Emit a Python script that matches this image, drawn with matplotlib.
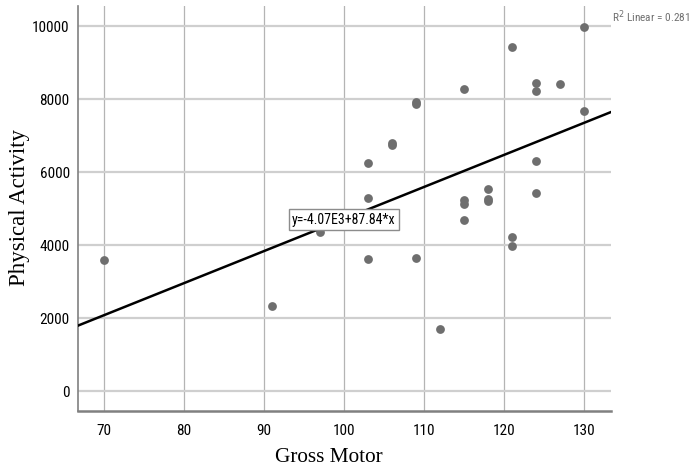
import numpy as np
import matplotlib.pyplot as plt

# valeurs
gross_motor = [70, 91, 97, 103, 103, 103, 106, 106, 109, 109, 109, 112,
               115, 115, 115, 115, 118, 118, 118, 121, 121, 121,
               124, 124, 124, 124, 127, 130, 130]
physical_activity = [3590, 2330, 4360, 6250, 5300, 3610, 6740, 6790, 7920, 7870, 3640, 1700,
                     8270, 5230, 5120, 4690, 5530, 5260, 5200, 9430, 4220, 3980,
                     8440, 8220, 6300, 5430, 8410, 9970, 7670]
intercept, slope = -4070, 87.84
r2 = 0.281
xticks = [70, 80, 90, 100, 110, 120, 130]
yticks = [0, 2000, 4000, 6000, 8000, 10000]

narrow = ['Roboto Condensed', 'Archivo Narrow', 'PT Sans Narrow', 'Liberation Sans']
serif = ['Liberation Serif', 'DejaVu Serif']

fig = plt.figure(figsize=(6.95, 4.72), dpi=100)
ax = fig.add_axes((0.1122, 0.129, 0.767, 0.858))
xlim = (66.75, 133.4)
ylim = (-550, 10550)
ax.set_xlim(*xlim)
ax.set_ylim(*ylim)

ax.grid(True, axis='x', color='#b4b4b4', lw=0.9)
ax.grid(True, axis='y', color='#cfcfcf', lw=1.6)
ax.set_axisbelow(True)

ax.scatter(gross_motor, physical_activity, s=40, color='#6e6e6e', zorder=3, linewidths=0)

xl = np.array(xlim)
ax.plot(xl, intercept + slope * xl, color='black', lw=1.8, zorder=4)

ax.text(100.0, 4700, 'y=-4.07E3+87.84*x', family=narrow, fontsize=10, ha='center', va='center',
        zorder=5, bbox=dict(boxstyle='square,pad=0.25', fc='white', ec='#8c8c8c', lw=1))
fig.text(0.880, 0.965, f'R$^2$ Linear = {r2}', family=narrow, fontsize=8.2, color='#707070',
         ha='left', va='center')

ax.set_xticks(xticks)
ax.set_yticks(yticks)
ax.tick_params(length=0, labelsize=11)
ax.tick_params(axis='x', pad=9)
ax.tick_params(axis='y', pad=6)
for lab in ax.get_xticklabels() + ax.get_yticklabels():
    lab.set_family(narrow)

for s in ['top', 'right']:
    ax.spines[s].set_visible(False)
ax.spines['left'].set_color('#808080')
ax.spines['bottom'].set_color('#808080')
ax.spines['left'].set_linewidth(1.2)
ax.spines['bottom'].set_linewidth(1.8)

ax.set_xlabel('Gross Motor', family=serif, fontsize=15.3)
ax.set_ylabel('Physical Activity', family=serif, fontsize=16.5)
ax.xaxis.set_label_coords(0.471, -0.092)
ax.yaxis.set_label_coords(-0.090, 0.504)

fig.savefig('out.png', dpi=100)
